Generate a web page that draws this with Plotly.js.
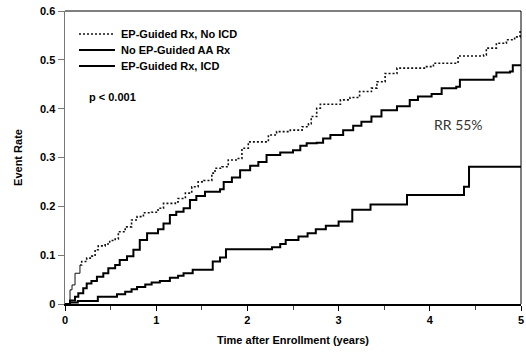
<!DOCTYPE html>
<html>
<head>
<meta charset="utf-8">
<script src="https://cdn.plot.ly/plotly-3.0.1.min.js"></script>
<style>
  html, body { margin: 0; padding: 0; background: #fff; }
  #chart { width: 526px; height: 352px; }
</style>
</head>
<body>
<div id="chart"></div>
<script>
// Cumulative event rate, step curves (time in years, rate as fraction)
const noIcdTime = [0, 0.055, 0.077, 0.11, 0.164, 0.183, 0.238, 0.293, 0.33, 0.365, 0.44, 0.49, 0.55, 0.585, 0.66, 0.73, 0.79, 0.86, 0.95, 1.02, 1.08, 1.21, 1.24, 1.32, 1.39, 1.46, 1.52, 1.61, 1.645, 1.72, 1.79, 1.90, 1.94, 2.01, 2.14, 2.23, 2.32, 2.47, 2.60, 2.67, 2.70, 2.76, 2.80, 2.91, 3.02, 3.125, 3.23, 3.36, 3.42, 3.51, 3.64, 3.95, 4.04, 4.22, 4.31, 4.59, 4.62, 4.73, 4.84, 4.93, 4.99, 5.0];
const noIcdRate = [0, 0.029, 0.039, 0.063, 0.080, 0.087, 0.094, 0.098, 0.111, 0.119, 0.123, 0.130, 0.133, 0.148, 0.158, 0.172, 0.179, 0.187, 0.188, 0.196, 0.206, 0.209, 0.216, 0.227, 0.240, 0.250, 0.253, 0.268, 0.278, 0.281, 0.295, 0.298, 0.319, 0.332, 0.332, 0.346, 0.353, 0.356, 0.363, 0.369, 0.384, 0.401, 0.409, 0.409, 0.418, 0.423, 0.435, 0.442, 0.455, 0.472, 0.483, 0.486, 0.493, 0.493, 0.508, 0.510, 0.524, 0.534, 0.541, 0.547, 0.561, 0.561];

const noEpTime = [0, 0.055, 0.11, 0.146, 0.20, 0.238, 0.29, 0.35, 0.42, 0.475, 0.55, 0.60, 0.68, 0.75, 0.82, 0.90, 1.02, 1.08, 1.15, 1.22, 1.30, 1.37, 1.44, 1.535, 1.70, 1.74, 1.83, 1.92, 2.03, 2.12, 2.21, 2.36, 2.50, 2.58, 2.65, 2.76, 2.83, 2.91, 3.05, 3.16, 3.25, 3.36, 3.47, 3.64, 3.78, 3.87, 4.02, 4.13, 4.29, 4.33, 4.70, 4.73, 4.88, 4.91, 5.0];
const noEpRate = [0, 0.007, 0.015, 0.022, 0.032, 0.042, 0.047, 0.056, 0.063, 0.073, 0.080, 0.090, 0.098, 0.111, 0.131, 0.145, 0.153, 0.165, 0.182, 0.189, 0.196, 0.213, 0.221, 0.230, 0.235, 0.250, 0.259, 0.274, 0.283, 0.291, 0.305, 0.310, 0.315, 0.324, 0.329, 0.330, 0.339, 0.346, 0.356, 0.365, 0.373, 0.384, 0.397, 0.405, 0.418, 0.425, 0.430, 0.442, 0.445, 0.459, 0.466, 0.474, 0.476, 0.489, 0.490];

const icdTime = [0, 0.055, 0.14, 0.36, 0.57, 0.66, 0.73, 0.79, 0.88, 0.95, 1.04, 1.15, 1.24, 1.30, 1.40, 1.62, 1.70, 1.765, 2.27, 2.36, 2.42, 2.56, 2.66, 2.75, 2.86, 3.00, 3.15, 3.35, 3.75, 4.375, 4.43, 5.0];
const icdRate = [0, 0.003, 0.006, 0.015, 0.020, 0.025, 0.030, 0.035, 0.040, 0.044, 0.047, 0.054, 0.058, 0.063, 0.070, 0.087, 0.095, 0.112, 0.116, 0.123, 0.131, 0.138, 0.145, 0.153, 0.160, 0.169, 0.193, 0.204, 0.223, 0.240, 0.281, 0.281];

const seriesNames = ['EP-Guided Rx, No ICD', 'No EP-Guided AA Rx', 'EP-Guided Rx, ICD'];
const yTickVals = [0, 0.1, 0.2, 0.3, 0.4, 0.5, 0.6];
const yTickText = ['0', '0.1', '0.2', '0.3', '0.4', '0.5', '0.6'];
const xTickVals = [0, 1, 2, 3, 4, 5];

const FONT = 'Liberation Sans, Arial, sans-serif';
const DOTTED = { shape: 'hv', color: '#111', width: 1.6, dash: '2px,2px' };
const SOLID = { shape: 'hv', color: '#000', width: 2 };

// the first few events of the no-ICD curve come so fast that the dots merge into a thin line
const EARLY = 5;

const traces = [
  { x: noIcdTime.slice(0, EARLY), y: noIcdRate.slice(0, EARLY), name: seriesNames[0], mode: 'lines',
    line: { shape: 'hv', color: '#111', width: 1 }, showlegend: false },
  { x: noIcdTime.slice(EARLY - 1), y: noIcdRate.slice(EARLY - 1), name: seriesNames[0], mode: 'lines', line: DOTTED },
  { x: noEpTime, y: noEpRate, name: seriesNames[1], mode: 'lines', line: SOLID },
  { x: icdTime, y: icdRate, name: seriesNames[2], mode: 'lines', line: SOLID }
];

// legend drawn as short line samples with labels in the upper-left of the plot
const legendRows = [0.9215, 0.8669, 0.8123];
const legendStyles = [
  { color: '#111', width: 1.6, dash: '2px,2px' },
  { color: '#000', width: 2 },
  { color: '#000', width: 2 }
];
const shapes = [
  { type: 'line', xref: 'paper', yref: 'paper', x0: 0, x1: 1, y0: 1, y1: 1, line: { color: '#000', width: 1 } },
  { type: 'line', xref: 'paper', yref: 'paper', x0: 1, x1: 1, y0: 0, y1: 1, line: { color: '#000', width: 1 } }
];
const annotations = [
  { xref: 'paper', yref: 'paper', x: 0.048, y: 0.705, xanchor: 'left', yanchor: 'middle',
    text: 'p < 0.001', showarrow: false, font: { family: FONT, size: 11, weight: 'bold', color: '#000' } },
  { xref: 'x', yref: 'y', x: 4.31, y: 0.367, xanchor: 'center', yanchor: 'middle',
    text: 'RR 55%', showarrow: false, font: { family: 'Lato, Open Sans, sans-serif', size: 14, weight: 'normal', color: '#333' } }
];
seriesNames.forEach((name, i) => {
  shapes.push({ type: 'line', xref: 'paper', yref: 'paper', x0: 0.0307, x1: 0.1096,
    y0: legendRows[i], y1: legendRows[i], line: legendStyles[i] });
  annotations.push({ xref: 'paper', yref: 'paper', x: 0.1184, y: legendRows[i], xanchor: 'left', yanchor: 'middle',
    text: name, showarrow: false, font: { family: FONT, size: 11, weight: 'bold', color: '#000' } });
});

const layout = {
  width: 526, height: 352,
  margin: { l: 65, r: 5, t: 11, b: 48 },
  paper_bgcolor: '#fff', plot_bgcolor: '#fff',
  font: { family: FONT, size: 11, color: '#000', weight: 'bold' },
  showlegend: false,
  xaxis: {
    range: [0, 5], showgrid: false, zeroline: false,
    tickvals: xTickVals, ticks: 'outside', ticklen: 5, tickwidth: 1, tickcolor: '#000',
    minor: { dtick: 0.5, ticks: 'outside', ticklen: 4, tickcolor: '#444', tickwidth: 1 },
    showline: true, linecolor: '#000', linewidth: 1.5, mirror: false,
    tickfont: { family: FONT, size: 11, weight: 'bold' },
    title: { text: 'Time after Enrollment (years)', font: { family: FONT, size: 11, weight: 'bold' }, standoff: 11 }
  },
  yaxis: {
    range: [0, 0.6], showgrid: false, zeroline: false,
    tickvals: yTickVals, ticktext: yTickText, ticks: 'outside', ticklen: 6, tickwidth: 1, tickcolor: '#777',
    showline: true, linecolor: '#777', linewidth: 1.5,
    tickfont: { family: FONT, size: 11, weight: 'bold' },
    title: { text: 'Event Rate', font: { family: FONT, size: 11, weight: 'bold' }, standoff: 15 }
  },
  shapes: shapes,
  annotations: annotations
};

Plotly.newPlot('chart', traces, layout, { displayModeBar: false, staticPlot: true });
</script>
</body>
</html>
